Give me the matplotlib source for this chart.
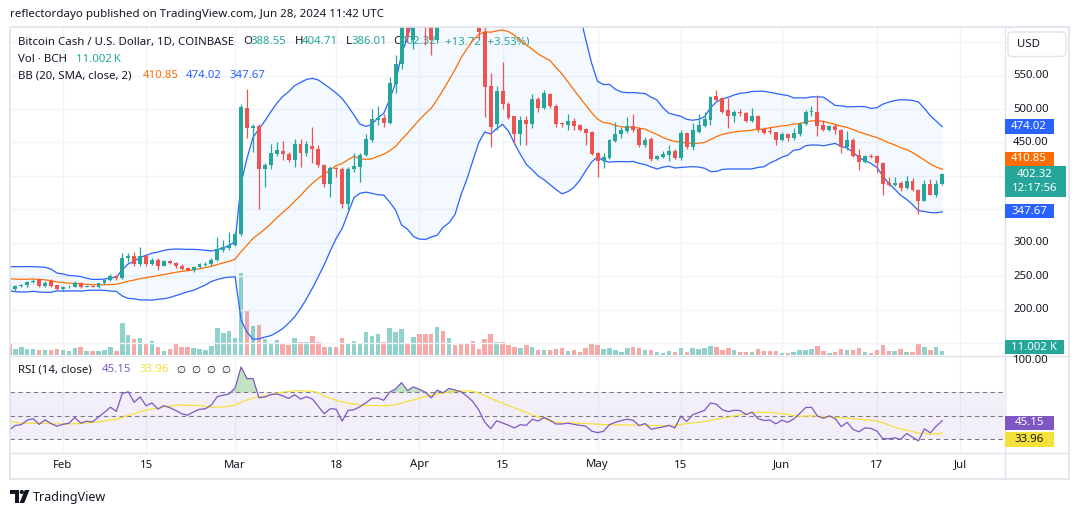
import numpy as np
import pandas as pd
import matplotlib
matplotlib.use("Agg")
import matplotlib.pyplot as plt
import matplotlib.dates as mdates
import matplotlib.transforms as mtransforms
from matplotlib.patches import Rectangle, FancyBboxPatch, Circle, Polygon
from matplotlib.lines import Line2D

plt.rcParams['font.family'] = ['Noto Sans', 'DejaVu Sans']

# ---------------- data ----------------
first_day = "2024-01-23"

opens = [
    237, 231, 236, 237, 242, 245, 236, 243, 237,
    232, 234, 235, 241, 235, 236, 234, 240, 245, 251,
    247, 277, 281, 269, 281, 269, 275, 266, 273, 270,
    266, 262, 259, 264, 267, 269, 275, 290, 293,
    297, 313, 501, 471, 475, 411, 416, 433, 437, 433,
    424, 448, 434, 445, 441, 416, 388, 412, 410, 358,
    410, 414, 432, 454, 483, 487, 479, 538, 567, 640, 603,
    650, 640, 628, 603, 680, 668, 720, 712, 705, 685,
    660, 615, 534, 478, 527, 508, 489, 463, 483, 477,
    515, 502, 522, 505, 479, 476, 482, 476, 470, 465,
    434, 423, 427, 452, 462, 467, 474, 470, 447, 455,
    426, 429, 431, 438, 427, 464, 443, 465, 475, 484,
    519, 516, 499, 490, 496, 494, 482, 490, 470, 467, 465,
    453, 462, 456, 462, 478, 495, 496, 476, 469, 475,
    468, 444, 454, 431, 421, 430, 430, 419, 389, 387,
    390, 382, 393, 379, 363, 388, 372, 388.55,
]
highs = [
    239, 238, 239, 244, 246, 247, 243, 246, 238,
    236, 237, 243, 242, 237, 237, 241, 246, 254, 252,
    285, 285, 287, 294, 283, 277, 277, 274, 275, 272,
    268, 264, 266, 270, 271, 277, 309, 305, 317,
    316, 508, 530, 478, 477, 420, 448, 450, 452, 436,
    455, 455, 452, 473, 446, 418, 415, 414, 413, 413,
    434, 434, 463, 500, 505, 493, 548, 580, 660, 655, 665,
    670, 648, 640, 690, 695, 725, 730, 740, 715, 695,
    670, 622, 553, 534, 570, 510, 490, 490, 490, 522,
    518, 528, 524, 507, 481, 493, 486, 478, 472, 467,
    436, 434, 455, 480, 473, 488, 493, 473, 458, 458,
    432, 437, 447, 440, 469, 466, 479, 492, 496, 520,
    529, 518, 516, 499, 500, 495, 501, 491, 473, 473, 466,
    466, 464, 471, 481, 498, 505, 521, 484, 476, 477,
    470, 467, 456, 440, 432, 433, 432, 421, 398, 399,
    392, 400, 397, 381, 394, 396, 394, 404.71,
]
lows = [
    229, 229, 234, 235, 240, 234, 234, 235, 230,
    229, 233, 234, 233, 234, 234, 233, 239, 244, 245,
    246, 272, 266, 266, 265, 267, 259, 265, 268, 263,
    259, 258, 257, 262, 265, 266, 273, 286, 290,
    295, 310, 456, 436, 351, 384, 411, 430, 424, 421,
    413, 413, 430, 420, 413, 384, 369, 398, 352, 349,
    406, 391, 430, 450, 476, 473, 478, 524, 560, 600, 590,
    630, 595, 580, 598, 650, 662, 700, 695, 670, 640,
    605, 488, 443, 468, 500, 485, 448, 446, 446, 471,
    496, 500, 501, 473, 473, 468, 468, 467, 447, 431,
    398, 412, 426, 451, 456, 464, 466, 443, 443, 423,
    424, 427, 422, 425, 424, 441, 439, 464, 473, 476,
    510, 494, 471, 480, 490, 481, 481, 465, 462, 462, 447,
    452, 452, 453, 460, 476, 490, 460, 467, 467, 462,
    435, 439, 428, 409, 420, 427, 405, 372, 385, 385,
    377, 380, 378, 344, 362, 371, 368, 386.01,
]
closes = [
    231, 236, 237, 242, 244, 236, 241, 236, 232,
    234, 235, 241, 234, 236, 235, 240, 245, 251, 247,
    277, 281, 269, 281, 269, 275, 266, 273, 270, 266,
    261, 259, 264, 268, 269, 275, 291, 294, 297,
    313, 503, 471, 475, 411, 416, 434, 439, 433, 424,
    448, 434, 448, 441, 416, 388, 412, 410, 358, 411,
    415, 432, 455, 485, 487, 479, 539, 567, 640, 608, 650,
    640, 628, 603, 680, 668, 720, 712, 705, 685, 660,
    615, 533, 473, 527, 508, 487, 463, 483, 477, 515,
    502, 524, 504, 478, 478, 482, 475, 469, 464, 433,
    423, 428, 453, 462, 469, 474, 469, 446, 453, 426,
    430, 433, 438, 427, 464, 443, 468, 476, 485, 518,
    514, 496, 490, 495, 494, 482, 490, 470, 464, 465, 453,
    462, 456, 464, 478, 496, 497, 475, 469, 475, 468,
    444, 454, 430, 421, 430, 428, 419, 388, 387, 389,
    382, 393, 379, 363, 388, 372, 388, 402.32,
]
volumes_k = [
    29, 16, 22, 16, 16, 14, 14, 14, 16,
    14, 11, 18, 22, 11, 11, 11, 13, 22, 11,
    88, 55, 44, 46, 33, 38, 22, 11, 16, 33,
    22, 22, 18, 16, 14, 25, 74, 60, 66,
    47, 225, 124, 80, 83, 44, 33, 41, 33, 28,
    47, 36, 36, 52, 36, 22, 22, 22, 47, 33,
    38, 33, 63, 52, 58, 36, 74, 63, 72, 30, 50,
    58, 58, 58, 77, 66, 47, 28, 33, 33, 38,
    16, 44, 58, 36, 36, 28, 22, 19, 28, 22,
    14, 14, 14, 16, 19, 11, 14, 8, 19, 30,
    28, 16, 19, 14, 8, 19, 22, 19, 14, 14,
    8, 6, 11, 8, 19, 8, 19, 16, 19, 25,
    22, 14, 19, 14, 8, 8, 8, 16, 11, 11, 11,
    6, 6, 8, 14, 14, 16, 25, 11, 6, 8,
    16, 14, 14, 19, 8, 6, 14, 28, 11, 11,
    16, 8, 8, 30, 22, 14, 22, 11.002,
]
# estimated closes of the 30 days before the visible window (indicator warm-up)
warmup_closes = [262, 268, 252, 258, 250, 248, 250, 255, 262, 265,
                 238, 245, 242, 240, 236, 252, 250, 262, 270, 252,
                 254, 246, 248, 252, 248, 240, 243, 244, 242, 233]

x_tick_dates = ["2024-02-01", "2024-02-15", "2024-03-01", "2024-03-18", "2024-04-01",
                "2024-04-15", "2024-05-01", "2024-05-15", "2024-06-01", "2024-06-17",
                "2024-07-01"]
x_tick_labels = ["Feb", "15", "Mar", "18", "Apr", "15", "May", "15", "Jun", "17", "Jul"]
price_ticks = [600, 550, 500, 450, 400, 350, 300, 250, 200, 150]
price_tick_labels = [550, 500, 450, 300, 250, 200]   # the others sit under value tags
rsi_tick_labels = [100]

title_text = "reflectordayo published on TradingView.com, Jun 28, 2024 11:42 UTC"
symbol_text = "Bitcoin Cash / U.S. Dollar, 1D, COINBASE"
ohlc_text = [("O", "388.55"), ("H", "404.71"), ("L", "386.01"), ("C", "402.32")]
change_text = "+13.72 (+3.53%)"
vol_legend = ("Vol \u00b7 BCH", "11.002\u2009K")
bb_legend = "BB (20, SMA, close, 2)"
bb_values = [410.85, 474.02, 347.67]
rsi_legend = "RSI (14, close)"
rsi_values = [45.15, 33.96]
countdown = "12:17:56"

# ---------------- indicators ----------------
n = len(closes)
assert len(opens) == len(highs) == len(lows) == len(volumes_k) == n
dates = pd.date_range(first_day, periods=n, freq="D")
wdates = pd.date_range(end=dates[0] - pd.Timedelta(days=1), periods=len(warmup_closes), freq="D")
all_dates = wdates.append(dates)
all_close = pd.Series(list(warmup_closes) + list(closes), index=all_dates, dtype=float)
basis = all_close.rolling(20).mean()
dev = all_close.rolling(20).std(ddof=0)
upper = basis + 2 * dev
lower = basis - 2 * dev

delta = all_close.diff()
gain = delta.clip(lower=0).values
loss = (-delta).clip(lower=0).values


def rma(vals, p=14):
    out = np.full(len(vals), np.nan)
    out[p] = np.mean(vals[1:p + 1])
    for i in range(p + 1, len(vals)):
        out[i] = (out[i - 1] * (p - 1) + vals[i]) / p
    return out


ag, al = rma(gain), rma(loss)
rsi = pd.Series(100 - 100 / (1 + ag / al), index=all_dates)
rsi_ma = rsi.rolling(14).mean()

# ---------------- figure ----------------
W, H = 1080, 515
fig = plt.figure(figsize=(W / 100, H / 100), dpi=100)
fig.patch.set_facecolor("white")
IT = mtransforms.IdentityTransform()

UP, DOWN = "#26a69a", "#ef5350"
VUP, VDOWN = "#92d2cc", "#f7a9a7"
TXT = "#131722"
GRID = "#f0f3fa"
BORDER = "#e0e3eb"
BLUE, ORANGE = "#2962ff", "#ff6d00"
PURPLE, YELLOW = "#7e57c2", "#f5e13a"
FS = 8.2

L_PX, R_PX = 10, 1004
P_TOP, P_BOT = 27, 355
R_TOP, R_BOT = 357, 452


def rect(top, bot):
    return [L_PX / W, 1 - bot / H, (R_PX - L_PX) / W, (bot - top) / H]


axv = fig.add_axes(rect(P_TOP, P_BOT), zorder=0)
ax = fig.add_axes(rect(P_TOP, P_BOT), zorder=1)
axr = fig.add_axes(rect(R_TOP, R_BOT), zorder=1)
ax.patch.set_visible(False)
for a in (axv, ax, axr):
    for s in a.spines.values():
        s.set_visible(False)
    a.set_xticks([])
    a.set_yticks([])

feb1 = mdates.date2num(pd.Timestamp("2024-02-01"))
xlim = (feb1 - 8.9, feb1 + 158.4)
for a in (axv, ax, axr):
    a.set_xlim(*xlim)

ax.set_ylim(132.8, 622.4)
axv.set_ylim(0, 902)
axr.set_ylim(18.9, 100.3)

xs = mdates.date2num(dates)
xa = mdates.date2num(all_dates)
tick_x = mdates.date2num(pd.to_datetime(x_tick_dates))

# grid
for t in tick_x:
    axv.axvline(t, color=GRID, lw=1, zorder=0)
    axr.axvline(t, color=GRID, lw=1, zorder=0)
for p in price_ticks:
    ax.axhline(p, color=GRID, lw=1, zorder=0)

# volume
o = np.array(opens, float); c = np.array(closes, float)
h = np.array(highs, float); l = np.array(lows, float)
upmask = c >= o
axv.bar(xs, volumes_k, width=0.75, color=np.where(upmask, VUP, VDOWN), zorder=2, linewidth=0)

# Bollinger bands
valid = all_dates >= pd.Timestamp(first_day) - pd.Timedelta(days=2)
ax.fill_between(xa[valid], lower[valid], upper[valid], color="#2196f3", alpha=0.05, lw=0, zorder=1)
ax.plot(xa[valid], upper[valid], color=BLUE, lw=0.9, zorder=2)
ax.plot(xa[valid], lower[valid], color=BLUE, lw=0.9, zorder=2)
ax.plot(xa[valid], basis[valid], color=ORANGE, lw=0.9, zorder=2)

# candles
ccol = np.where(upmask, UP, DOWN)
ax.vlines(xs, l, h, colors=ccol, lw=0.9, zorder=3)
body = np.maximum(np.abs(c - o), 1.0)
ax.bar(xs, body, bottom=np.minimum(o, c), width=0.66, color=ccol, linewidth=0, zorder=4)

# RSI pane
axr.axhspan(30, 70, color=PURPLE, alpha=0.09, lw=0, zorder=1)
for lv in (70, 50, 30):
    axr.axhline(lv, color="#787b86", lw=0.8, ls=(0, (4, 3)), zorder=2)
rv = valid
axr.fill_between(xa[rv], 70, rsi[rv], where=(rsi[rv] > 70).values, interpolate=True,
                 color="#4caf50", alpha=0.35, lw=0, zorder=2)
axr.plot(xa[rv], rsi_ma[rv], color=YELLOW, lw=0.9, zorder=3)
axr.plot(xa[rv], rsi[rv], color=PURPLE, lw=0.9, zorder=4)


# ---------------- helpers for pixel placement ----------------
def ptext(x, ytop, s, target=fig, **kw):
    kw.setdefault("fontsize", FS)
    kw.setdefault("va", "center")
    return target.text(x, H - ytop, s, transform=IT, **kw)


def pline(x0, y0, x1, y1, color=BORDER, lw=1.0):
    fig.add_artist(Line2D([x0, x1], [H - y0, H - y1], transform=IT, color=color, lw=lw, zorder=5))


def ydisp(a, v):
    return a.transData.transform((xlim[0], v))[1]


def xdisp(a, v):
    return a.transData.transform((v, 0))[0]


def tag(yc, label, fc, tc="white", width=49, height=14.5, extra=None):
    if extra is None:
        fig.add_artist(Rectangle((R_PX + 0.5, yc - height / 2), width, height, transform=IT,
                                 fc=fc, ec="none", zorder=8))
        fig.text(R_PX + 0.5 + width / 2, yc, label, transform=IT, ha="center", va="center",
                 color=tc, fontsize=FS, zorder=9)
    else:
        hh = 31
        fig.add_artist(Rectangle((R_PX + 0.5, yc + 8 - hh), width, hh, transform=IT,
                                 fc=fc, ec="none", zorder=8))
        fig.text(R_PX + 0.5 + width / 2, yc, label, transform=IT, ha="center", va="center",
                 color=tc, fontsize=FS, zorder=9)
        fig.text(R_PX + 0.5 + width / 2, yc - 14.5, extra, transform=IT, ha="center",
                 va="center", color=tc, fontsize=FS, zorder=9)


# ---------------- texts ----------------
ptext(10, 15, title_text, color=TXT, fontsize=8.3)

ptext(18, 42, symbol_text, target=ax, color=TXT, zorder=1)
ox = [243, 294.5, 345.5, 393]
for (lab, val), x0 in zip(ohlc_text, ox):
    ptext(x0, 42, lab, target=ax, color=TXT, zorder=1)
    ptext(x0 + (7.5 if lab != "L" else 6), 42, val, target=ax, color=UP, zorder=1)
ptext(445, 42, change_text, target=ax, color=UP, zorder=1)

ptext(18, 59, vol_legend[0], target=ax, color=TXT, zorder=1)
ptext(76, 59, vol_legend[1], target=ax, color=UP, zorder=1)

ptext(18, 76, bb_legend, target=ax, color=TXT, zorder=1)
for v, x0, col in zip(bb_values, [143, 186, 229], [ORANGE, BLUE, BLUE]):
    ptext(x0, 76, f"{v:.2f}", target=ax, color=col, zorder=1)

ptext(18, 370, rsi_legend, color=TXT)
ptext(102, 370, f"{rsi_values[0]:.2f}", color=PURPLE)
ptext(139, 370, f"{rsi_values[1]:.2f}", color=YELLOW)
for x0 in (176, 191, 206, 221):
    ptext(x0, 370, "\u2205", color=TXT, fontsize=7.5, family=["DejaVu Sans"])

# right axis labels
for p in price_tick_labels:
    fig.text(1013, ydisp(ax, p), f"{p:.2f}", transform=IT, va="center", ha="left",
             color=TXT, fontsize=FS, zorder=6)
for r in rsi_tick_labels:
    fig.text(1013, ydisp(axr, r) - 3.5, f"{r:.2f}", transform=IT, va="center", ha="left",
             color=TXT, fontsize=FS, zorder=6)

# USD button
fig.add_artist(FancyBboxPatch((1008, H - 56.5), 58, 24.5, boxstyle="round,pad=0,rounding_size=4",
                              transform=IT, fc="white", ec=BORDER, lw=1, zorder=7))
fig.text(1017, H - 44.5, "USD", transform=IT, va="center", ha="left", color=TXT,
         fontsize=FS, zorder=8)

# x tick labels
for t, lab in zip(tick_x, x_tick_labels):
    fig.text(xdisp(axr, t), H - 465, lab, transform=IT, ha="center", va="center",
             color=TXT, fontsize=FS)

# value tags on the price scale
y_close = ydisp(ax, closes[-1])
y_basis = max(ydisp(ax, bb_values[0]), y_close + 8 + 7.5)
tag(ydisp(ax, bb_values[1]), f"{bb_values[1]:.2f}", BLUE)
tag(y_basis, f"{bb_values[0]:.2f}", ORANGE)
tag(y_close, f"{closes[-1]:.2f}", UP, width=61, extra=countdown)
tag(ydisp(ax, bb_values[2]), f"{bb_values[2]:.2f}", BLUE)
y_vol = max(ydisp(axv, volumes_k[-1]), H - P_BOT + 8)
tag(y_vol, vol_legend[1].replace("\u2009", " "), UP, width=59)

y_r1 = ydisp(axr, rsi_values[0]) - 1.5
y_r2 = min(ydisp(axr, rsi_values[1]), y_r1 - 16.5)
tag(y_r1, f"{rsi_values[0]:.2f}", PURPLE)
tag(y_r2, f"{rsi_values[1]:.2f}", YELLOW, tc=TXT)

# frame and separators
fig.add_artist(Rectangle((9.5, H - 478.5), 1059, 452, transform=IT, fc="none",
                         ec=BORDER, lw=1.2, zorder=5))
pline(R_PX + 0.5, 27, R_PX + 0.5, 478)
pline(10, 356, 1068, 356)
pline(10, 453, 1068, 453)

# TradingView logo
fig.add_artist(Polygon([[10, H - 490], [18.5, H - 490], [18.5, H - 503], [14.5, H - 503],
                        [14.5, H - 494], [10, H - 494]], closed=True, transform=IT, fc=TXT, ec="none"))
fig.add_artist(Circle((21.8, H - 492), 2.1, transform=IT, fc=TXT, ec="none"))
fig.add_artist(Polygon([[19.5, H - 503], [24.8, H - 490], [29.5, H - 490], [24.2, H - 503]],
                       closed=True, transform=IT, fc=TXT, ec="none"))
fig.text(33, H - 497, "TradingView", transform=IT, va="center", ha="left", color=TXT,
         fontsize=9, fontweight="semibold")

fig.savefig("out.png", dpi=100, facecolor="white")
